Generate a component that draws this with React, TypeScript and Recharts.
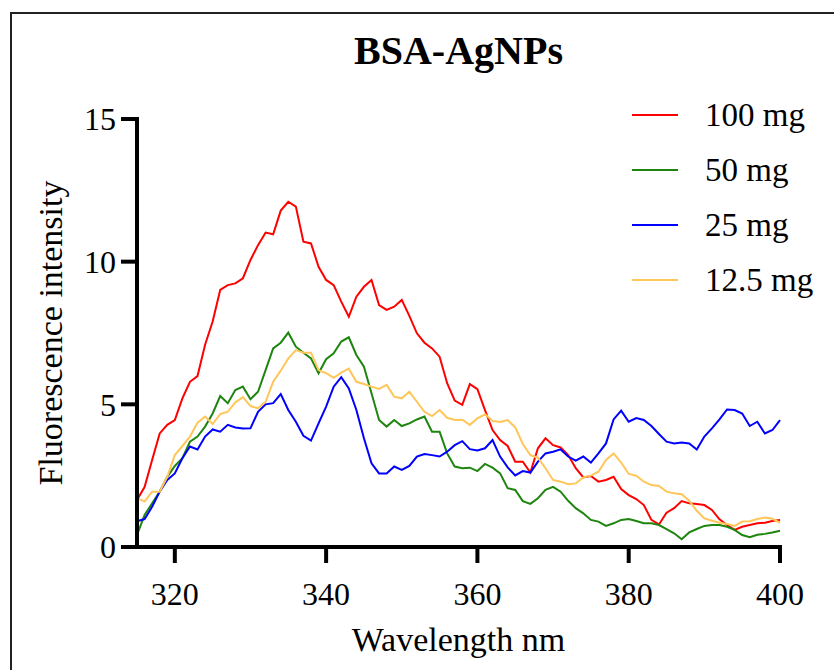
import { LineChart, Line, XAxis, YAxis, Legend } from 'recharts'

const FONT = '"Liberation Serif", "Times New Roman", serif'

// wavelength in nm
const wavelengths = [
  315, 316, 317, 318, 319, 320, 321, 322, 323, 324, 325, 326, 327, 328, 329,
  330, 331, 332, 333, 334, 335, 336, 337, 338, 339, 340, 341, 342, 343, 344,
  345, 346, 347, 348, 349, 350, 351, 352, 353, 354, 355, 356, 357, 358, 359,
  360, 361, 362, 363, 364, 365, 366, 367, 368, 369, 370, 371, 372, 373, 374,
  375, 376, 377, 378, 379, 380, 381, 382, 383, 384, 385, 386, 387, 388, 389,
  390, 391, 392, 393, 394, 395, 396, 397, 398, 399, 400,
]

const mg100 = [
  1.65, 2.1, 3.05, 3.98, 4.28, 4.45, 5.21, 5.79, 5.99, 7.09, 7.9, 9.01, 9.18, 9.24, 9.42,
  10.06, 10.58, 11.02, 10.96, 11.79, 12.1, 11.93, 10.7, 10.64, 9.82, 9.36, 9.18, 8.6, 8.07, 8.77,
  9.12, 9.36, 8.48, 8.31, 8.42, 8.66, 8.1, 7.49, 7.16, 6.96, 6.67, 5.74, 5.13, 4.98, 5.71,
  5.53, 4.8, 4.1, 3.75, 3.54, 2.99, 2.99, 2.61, 3.46, 3.81, 3.57, 3.49, 3.22, 2.76, 2.44,
  2.49, 2.29, 2.35, 2.46, 2.03, 1.82, 1.68, 1.47, 0.95, 0.79, 1.2, 1.36, 1.61, 1.53, 1.51,
  1.47, 1.3, 0.97, 0.77, 0.6, 0.71, 0.77, 0.83, 0.85, 0.91, 0.95,
]

const mg50 = [
  0.42, 1.12, 1.53, 1.94, 2.46, 2.84, 3.11, 3.69, 3.87, 4.22, 4.68, 5.29, 5.04, 5.5, 5.62,
  5.18, 5.44, 6.2, 6.96, 7.16, 7.51, 7.02, 6.81, 6.61, 6.09, 6.58, 6.79, 7.2, 7.35, 6.73,
  6.32, 5.39, 4.45, 4.22, 4.45, 4.24, 4.33, 4.47, 4.57, 4.04, 4.04, 3.28, 2.82, 2.76, 2.78,
  2.66, 2.91, 2.78, 2.58, 2.06, 2.0, 1.61, 1.51, 1.71, 2.0, 2.11, 1.94, 1.62, 1.36, 1.18,
  0.95, 0.89, 0.74, 0.83, 0.95, 0.98, 0.91, 0.83, 0.83, 0.77, 0.63, 0.48, 0.27, 0.51, 0.63,
  0.74, 0.77, 0.77, 0.71, 0.6, 0.42, 0.34, 0.43, 0.46, 0.51, 0.57,
]

const mg25 = [
  0.9, 0.98, 1.41, 1.94, 2.35, 2.58, 3.11, 3.52, 3.42, 3.87, 4.12, 4.04, 4.28, 4.19, 4.15,
  4.16, 4.74, 5.0, 5.04, 5.36, 4.8, 4.39, 3.9, 3.73, 4.33, 4.92, 5.62, 5.95, 5.56, 4.8,
  3.81, 2.93, 2.58, 2.58, 2.82, 2.7, 2.84, 3.17, 3.26, 3.22, 3.17, 3.34, 3.57, 3.71, 3.43,
  3.38, 3.46, 3.75, 3.17, 2.79, 2.51, 2.66, 2.61, 2.99, 3.28, 3.34, 3.42, 3.17, 3.03, 3.17,
  2.96, 3.28, 3.63, 4.47, 4.78, 4.39, 4.52, 4.45, 4.24, 3.96, 3.69, 3.63, 3.66, 3.63, 3.42,
  3.87, 4.16, 4.47, 4.82, 4.8, 4.68, 4.24, 4.39, 3.98, 4.1, 4.45,
]

const mg12_5 = [
  1.71, 1.59, 1.94, 1.94, 2.46, 3.22, 3.54, 3.87, 4.36, 4.57, 4.31, 4.66, 4.74, 5.07, 5.25,
  4.94, 4.86, 5.09, 5.79, 6.18, 6.61, 6.9, 6.81, 6.81, 6.2, 6.09, 5.93, 6.11, 6.25, 5.79,
  5.71, 5.62, 5.54, 5.68, 5.27, 5.21, 5.44, 5.09, 4.74, 4.59, 4.8, 4.53, 4.45, 4.46, 4.28,
  4.51, 4.65, 4.42, 4.38, 4.45, 4.19, 3.61, 3.22, 3.13, 2.76, 2.35, 2.29, 2.2, 2.23, 2.44,
  2.5, 2.64, 3.05, 3.28, 2.96, 2.56, 2.5, 2.29, 2.17, 2.14, 1.94, 1.88, 1.85, 1.62, 1.27,
  1.0, 0.92, 0.85, 0.81, 0.74, 0.89, 0.9, 0.98, 1.03, 0.99, 0.85,
]

const xTicks = [320, 340, 360, 380, 400]
const yTicks = [0, 5, 10, 15]

const series = [
  { key: 'mg100', name: '100 mg', color: '#FF0000' },
  { key: 'mg50', name: '50 mg', color: '#1E850F' },
  { key: 'mg25', name: '25 mg', color: '#0000FF' },
  { key: 'mg12_5', name: '12.5 mg', color: '#FFC65A' },
]

const data = wavelengths.map((nm, i) => ({
  nm,
  mg100: mg100[i],
  mg50: mg50[i],
  mg25: mg25[i],
  mg12_5: mg12_5[i],
}))

const renderLegend = () => (
  <div style={{ fontFamily: FONT }}>
    {series.map((s) => (
      <div key={s.key} style={{ display: 'flex', alignItems: 'center', height: 55 }}>
        <svg width={46} height={4}>
          <line x1={0} y1={2} x2={46} y2={2} stroke={s.color} strokeWidth={2} />
        </svg>
        <span style={{ marginLeft: 27, fontSize: 33, color: '#000', lineHeight: '40px' }}>{s.name}</span>
      </div>
    ))}
  </div>
)

export default function App() {
  const axisStroke = { stroke: '#000', strokeWidth: 4, strokeLinecap: 'square' as const }
  return (
    <div
      style={{
        position: 'absolute', left: 0, top: 0, width: 834, height: 670,
        overflow: 'hidden', background: '#fff', fontFamily: FONT,
      }}
    >
      <div
        style={{
          position: 'absolute', left: 10, top: 12, width: 900, height: 800,
          border: '2px solid #222', boxSizing: 'border-box',
        }}
      />
      <div
        style={{
          position: 'absolute', left: 0, top: 31, width: 917, textAlign: 'center',
          fontWeight: 'bold', fontSize: 40, lineHeight: '40px', color: '#000',
        }}
      >
        BSA-AgNPs
      </div>
      <div style={{ position: 'absolute', left: 0, top: 0 }}>
        <LineChart
          width={834}
          height={670}
          data={data}
          margin={{ top: 119, right: 54, bottom: 13, left: 20 }}
          style={{ fontFamily: FONT }}
        >
          <XAxis
            dataKey="nm"
            type="number"
            domain={[315, 400]}
            ticks={xTicks}
            height={110}
            stroke="#000"
            axisLine={axisStroke}
            tickLine={{ stroke: '#000', strokeWidth: 4 }}
            tickSize={16}
            tickMargin={19}
            tick={{ fill: '#000', fontSize: 32, fontFamily: FONT }}
            label={{
              value: 'Wavelength nm', position: 'insideBottom', offset: 6,
              fill: '#000', fontSize: 34, fontFamily: FONT,
            }}
          />
          <YAxis
            type="number"
            domain={[0, 15]}
            ticks={yTicks}
            width={117}
            stroke="#000"
            axisLine={axisStroke}
            tickLine={{ stroke: '#000', strokeWidth: 4 }}
            tickSize={16}
            tickMargin={5}
            tick={{ fill: '#000', fontSize: 32, fontFamily: FONT }}
            label={{
              value: 'Fluorescence intensity', angle: -90, position: 'insideLeft', offset: 30,
              fill: '#000', fontSize: 34, fontFamily: FONT,
              style: { textAnchor: 'middle' },
            }}
          />
          <Legend
            layout="vertical"
            align="center"
            verticalAlign="middle"
            content={renderLegend}
            wrapperStyle={{ top: 87, left: 632, width: 200 }}
          />
          {series.map((s) => (
            <Line
              key={s.key}
              type="linear"
              dataKey={s.key}
              name={s.name}
              stroke={s.color}
              strokeWidth={2}
              dot={false}
              isAnimationActive={false}
            />
          ))}
        </LineChart>
      </div>
    </div>
  )
}
